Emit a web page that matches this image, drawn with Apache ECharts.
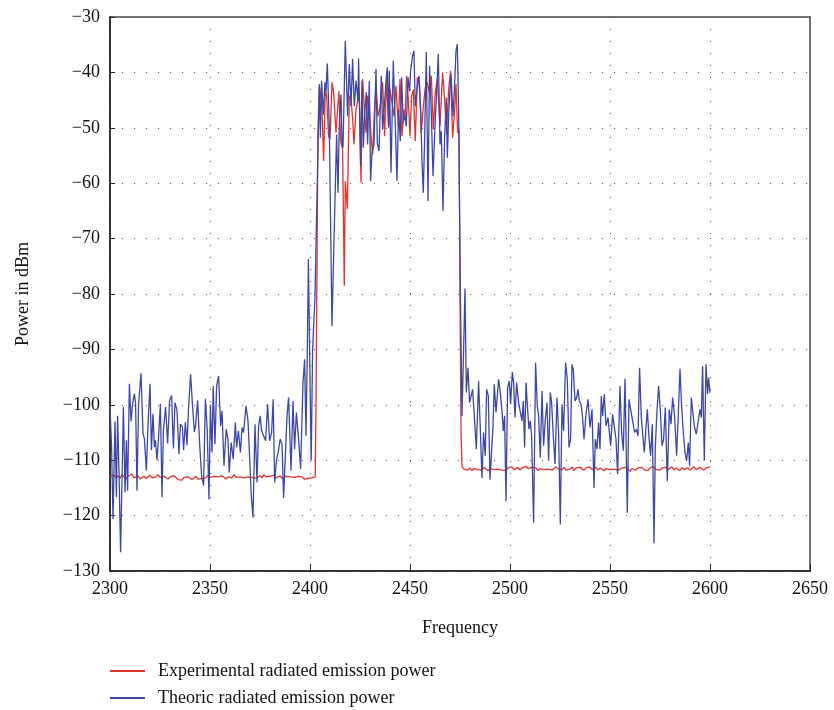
<!DOCTYPE html>
<html lang="en">
<head>
    <meta charset="UTF-8">
    <title>Radiated emission power</title>
    <script src="https://cdn.jsdelivr.net/npm/echarts@6/dist/echarts.min.js"></script>
    <style>
        html, body { margin: 0; padding: 0; background: #fff; }
        #chart { width: 834px; height: 710px; }
    </style>
</head>
<body>
    <div id="chart"></div>
    <script>
        // axis ticks
        const xTicks = [2300, 2350, 2400, 2450, 2500, 2550, 2600, 2650];
        const yTicks = [-130, -120, -110, -100, -90, -80, -70, -60, -50, -40, -30];

        // experimental: flat part left of the band, one value per MHz from 2300
        const expLeftStart = 2300;
        const expLeft = [
            -112.9, -113.1, -112.7, -113.2, -112.8, -113.3, -112.6, -113.0, -113.4, -112.9,
            -113.1, -112.5, -113.2, -113.0, -112.8, -113.4, -113.1, -112.9, -113.3, -113.0,
            -112.7, -113.2, -113.5, -113.0, -112.6, -113.1, -113.3, -112.9, -113.2, -113.4,
            -113.0, -113.3, -112.8, -113.1, -113.5, -113.2, -113.6, -113.1, -113.4, -113.0,
            -113.3, -113.5, -113.2, -112.9, -113.4, -113.1, -113.3, -113.0, -113.2, -112.7,
            -113.1, -113.4, -112.9, -113.2, -113.0, -113.3, -112.8, -113.1, -113.4, -113.0,
            -112.9, -113.2, -112.6, -113.1, -113.3, -113.0, -112.8, -113.2, -113.4, -113.0,
            -112.7, -113.1, -112.9, -113.3, -113.0, -112.8, -113.2, -112.6, -113.0, -113.3,
            -112.9, -113.1, -112.7, -113.2, -113.0, -112.8, -113.3, -113.1, -112.9, -113.2,
            -113.0, -112.7, -113.1, -113.3, -112.9, -113.2, -113.0, -113.4, -113.1, -113.3,
            -113.0, -113.2, -113.1
        ];

        // experimental: the band, [frequency, dBm]
        const expBand = [
            [2402.6, -113], [2403, -100], [2403.6, -70], [2404, -50], [2404.65, -42.4],
            [2405.3, -44], [2406, -46.7], [2406.8, -56], [2407.65, -43], [2408.3, -44.2],
            [2409.3, -51.5], [2410, -52.1], [2411, -41.8], [2411.8, -43.6], [2413, -50.9],
            [2413.8, -46.7], [2414.5, -43.4], [2415.3, -52.4], [2416.3, -53.9], [2417.15, -78.5],
            [2417.65, -59.6], [2418.65, -64.7], [2419.65, -44.2], [2420.5, -44.9], [2421.3, -48.2],
            [2422, -53], [2423, -46.7], [2423.8, -45.2], [2424.65, -43.6], [2425.5, -59.9],
            [2426.3, -41.2], [2427.3, -47.3], [2428, -50.9], [2428.8, -44.2], [2429.65, -46.4],
            [2430.65, -52.1], [2431.3, -54.8], [2432.3, -46.4], [2433, -42.4], [2434, -47.9],
            [2435, -46.4], [2435.65, -46.4], [2436.3, -41.8], [2437.3, -51.5], [2438.3, -41.2],
            [2439.3, -50], [2440, -43], [2441, -42.7], [2442, -47.9], [2443, -42.4],
            [2444.15, -49.7], [2445, -41.2], [2446, -51.5], [2447, -46.7], [2447.5, -48.5],
            [2448.3, -40.6], [2449.15, -44.9], [2450, -51.5], [2450.8, -44.3], [2451.65, -43.1],
            [2452.65, -52.4], [2453.65, -40.9], [2454.65, -41.8], [2455.65, -50.9], [2456.65, -46.1],
            [2457.65, -42.7], [2458.65, -41.8], [2459.65, -43.6], [2460.65, -40.6], [2461.65, -50.3],
            [2462.65, -43.6], [2463.65, -41.2], [2465, -49.7], [2466.3, -40], [2467.3, -44.9],
            [2468.3, -50.9], [2469.3, -43.1], [2470.3, -39.7], [2471.3, -51.8], [2472.3, -47],
            [2473, -42.1], [2473.8, -50.9], [2474.5, -50.3], [2475, -80], [2475.5, -105]
        ];

        // experimental: flat part right of the band, one value per MHz from 2476
        const expRightStart = 2476;
        const expRight = [
            -111.2, -111.6, -111.3, -111.8, -111.4, -111.9, -111.5, -111.2, -111.7, -111.4,
            -111.8, -111.3, -111.6, -111.9, -111.5, -111.2, -111.7, -111.4, -111.6, -111.3,
            -111.8, -111.5, -111.9, -111.4, -111.6, -111.2, -111.7, -111.5, -111.3, -111.8,
            -111.4, -111.6, -111.1, -111.5, -111.8, -111.3, -111.6, -111.4, -111.9, -111.5,
            -111.2, -111.7, -111.4, -111.6, -111.3, -111.8, -111.5, -111.2, -111.6, -111.4,
            -111.7, -111.3, -111.8, -111.5, -111.6, -111.2, -111.9, -111.4, -111.7, -111.3,
            -111.5, -111.8, -111.4, -111.6, -111.2, -111.7, -111.5, -111.3, -111.8, -111.4,
            -111.6, -111.9, -111.5, -111.2, -111.7, -111.4, -111.6, -111.3, -111.8, -111.5,
            -111.4, -111.7, -111.3, -111.6, -112.0, -111.5, -111.2, -111.8, -111.4, -111.6,
            -111.3, -111.7, -111.5, -111.9, -111.4, -111.6, -111.2, -111.7, -111.5, -111.8,
            -111.4, -111.6, -111.3, -111.7, -111.5, -111.2, -111.8, -111.4, -111.6, -111.9,
            -111.3, -111.7, -111.5, -111.4, -111.8, -111.6, -111.2, -111.7, -111.5, -111.3,
            -111.6, -111.8, -111.4, -111.7, -111.2
        ];

        // theoretic, [frequency, dBm]
        const theoric = [
            [2300, -100.4], [2300.8, -107.7], [2301.5, -120.6], [2302.5, -103], [2303.2, -116.7],
            [2303.8, -102], [2304.5, -112], [2305.3, -126.6], [2306.7, -100.4], [2307.5, -115.8],
            [2308.2, -106.4], [2308.8, -115.5], [2309.7, -96.2], [2310.5, -103], [2311.3, -99.8],
            [2312.2, -98], [2312.8, -99.8], [2313.5, -115.5], [2314.3, -99.8], [2315.5, -94.3],
            [2316.5, -105.2], [2317.2, -106.1], [2318.2, -111.9], [2319, -103.7], [2320, -96.2],
            [2320.7, -108.2], [2321.5, -101.6], [2322.2, -107.6], [2322.7, -106.4], [2323.5, -110],
            [2324.3, -105.8], [2325.2, -99.8], [2326, -116.7], [2326.7, -104.6], [2327.8, -100.4],
            [2328.8, -107], [2329.8, -99.2], [2330.8, -98.3], [2331.7, -107.9], [2332.5, -99.6],
            [2333.5, -101], [2334.5, -108.9], [2335.2, -103.5], [2336.2, -104], [2336.8, -108.2],
            [2337.7, -103.1], [2338.5, -107.3], [2339.3, -100.4], [2340.3, -94.5], [2341.3, -100.4],
            [2342.2, -104.9], [2342.8, -103.7], [2343.8, -99.2], [2344.8, -107], [2345.8, -112.8],
            [2346.8, -114.6], [2347.7, -98.9], [2348.6, -104.4], [2349.5, -117.1], [2350.2, -100],
            [2351, -108.6], [2351.6, -96.6], [2352.5, -107.1], [2353.3, -96.6], [2354.3, -94.8],
            [2355.3, -103.8], [2356, -101.1], [2357, -111], [2358.1, -104.4], [2359, -106.2],
            [2359.6, -112.2], [2360.6, -106.8], [2361.6, -109.8], [2362.7, -103.2], [2363.3, -107.7],
            [2364.2, -104.7], [2365.2, -108.6], [2366, -104.1], [2366.8, -105], [2368, -100.2],
            [2369, -102.9], [2370, -111], [2370.6, -116.2], [2371.5, -120.4], [2372.5, -103.5],
            [2373.5, -114], [2374.3, -103.8], [2375.1, -102], [2375.8, -104.7], [2376.8, -104.4],
            [2377.8, -106.5], [2378.8, -99.9], [2379.8, -106.5], [2380.8, -105], [2381.6, -99],
            [2382.3, -114], [2383.3, -109.8], [2384.1, -108.6], [2385.1, -106.2], [2386, -107.1],
            [2386.8, -116.8], [2387.6, -109.8], [2388.5, -102], [2389.3, -98.7], [2390.5, -111.9],
            [2391.5, -99.3], [2392.3, -108], [2393.2, -101.4], [2394.3, -106.2], [2395.3, -111.6],
            [2396.5, -96], [2397.3, -91.8], [2398, -105.6], [2398.6, -91.8], [2399.2, -73.7],
            [2400, -95.4], [2400.6, -110.1], [2401.3, -90], [2402.5, -80.4], [2403.5, -62],
            [2404.7, -42.1], [2405.2, -51.8], [2405.8, -41.5], [2406.65, -47.6], [2407.5, -41.8],
            [2408, -43.4], [2408.65, -38.4], [2409.65, -49.7], [2411, -85.8], [2412.3, -65.9],
            [2413.3, -51.2], [2414, -61.7], [2414.65, -49.1], [2415.5, -44], [2416, -52.7],
            [2416.5, -53.6], [2417.65, -34.3], [2418.8, -47.9], [2419.65, -38.5], [2420.5, -46.1],
            [2421.3, -37.6], [2422.15, -46.1], [2423, -41.5], [2424, -45.2], [2424.3, -37.5],
            [2425.3, -56.9], [2426, -41.5], [2426.65, -53.6], [2427.3, -47.9], [2428.15, -43.6],
            [2428.8, -53], [2429.65, -41.5], [2430.3, -59.6], [2431, -54.5], [2432, -53],
            [2433, -39.4], [2433.65, -52.7], [2434.5, -54.2], [2435.65, -40.6], [2436.3, -50.3],
            [2437.15, -46.1], [2438, -41.8], [2438.65, -39.1], [2439.3, -49.7], [2439.65, -39.7],
            [2440.5, -58.1], [2441.65, -37.9], [2442.5, -47.9], [2443.5, -59.6], [2444.3, -46.7],
            [2445.15, -52.4], [2445.8, -40.9], [2446.65, -49.1], [2447.3, -47.6], [2448.15, -49.7],
            [2449, -40.9], [2449.8, -43.4], [2450.3, -39.7], [2451.3, -37], [2451.97, -36.1],
            [2452.65, -46.1], [2453.65, -42.7], [2454.5, -40.6], [2455.3, -46.4], [2456, -56],
            [2456.65, -61.7], [2457.3, -52.1], [2458.15, -36.3], [2459, -63.2], [2459.8, -38.8],
            [2460.65, -47.3], [2461.5, -58.7], [2462.5, -49.7], [2463.3, -43.6], [2464.15, -36.7],
            [2465, -53], [2465.65, -50.6], [2466.5, -65], [2467.3, -51.8], [2468.15, -44.6],
            [2468.65, -55.4], [2469.5, -46.1], [2470.5, -40.3], [2471.5, -47.9], [2472.15, -43.4],
            [2473, -36.1], [2473.65, -34.9], [2474.3, -46.1], [2475.2, -80], [2476, -102],
            [2476.8, -90], [2477.5, -79], [2478.15, -97.8], [2479, -93.3], [2479.8, -99.6],
            [2480.5, -99.6], [2481.3, -97.2], [2482.15, -102], [2483.15, -108], [2484.3, -95.7],
            [2485.15, -104.4], [2486, -113.2], [2486.8, -105], [2487.65, -109.2], [2488.3, -97.2],
            [2489.15, -98.4], [2490, -113.5], [2490.8, -113.2], [2491.5, -103.8], [2492.15, -96.3],
            [2493, -101.4], [2493.65, -101.1], [2494.3, -95.4], [2495.15, -97.8], [2496, -101.1],
            [2496.65, -104.7], [2497.3, -102], [2498, -117.4], [2498.8, -96.9], [2499.65, -95.7],
            [2500.3, -99.9], [2501.15, -94.1], [2501.8, -96], [2502.5, -102.3], [2503.3, -96],
            [2504.3, -99.6], [2505, -99.9], [2506, -102.9], [2506.65, -99.3], [2507.3, -107.7],
            [2508, -96], [2508.8, -100.8], [2509.5, -104.4], [2510.15, -102.9], [2510.8, -105.6],
            [2511.8, -121.3], [2512.8, -92.4], [2513.65, -100.2], [2514.3, -102], [2515.15, -109.5],
            [2516, -97.5], [2516.8, -107.4], [2517.65, -102.6], [2518.5, -99.6], [2519.3, -110.1],
            [2520.15, -97.8], [2520.8, -99.6], [2521.65, -105.6], [2522.5, -110.7], [2523.5, -98.7],
            [2524.3, -105], [2525.15, -121.6], [2526, -99.9], [2526.8, -104.7], [2527.8, -92.4],
            [2528.65, -95.4], [2529.5, -107.7], [2530.3, -106.2], [2531, -92.7], [2531.65, -93.6],
            [2532.5, -99.3], [2533.3, -98.7], [2534, -97.2], [2534.65, -99.3], [2535.5, -99.9],
            [2536.3, -102.3], [2537, -106.2], [2538, -101.7], [2539, -99], [2540, -104.1],
            [2541, -100.8], [2542, -115], [2542.65, -106.2], [2543.5, -108], [2544.3, -103.2],
            [2545, -108], [2545.65, -98.4], [2546.3, -102], [2547.15, -98.1], [2548, -103.8],
            [2549, -102.3], [2549.65, -102], [2550.3, -107.4], [2551.3, -101.7], [2552.3, -104.4],
            [2553, -106.2], [2553.8, -112.5], [2555, -96.6], [2555.8, -105], [2556.65, -108.3],
            [2557.5, -95.3], [2558.65, -119.5], [2559.5, -99], [2560.5, -99.3], [2561.3, -102.9],
            [2562.3, -105], [2563.15, -104.4], [2564, -105.6], [2564.8, -93.3], [2565.65, -102.3],
            [2566.5, -102.3], [2567.15, -108.6], [2568, -104.1], [2568.65, -100.8], [2569.5, -105.9],
            [2570.3, -109.2], [2571.15, -103.5], [2572, -125], [2572.65, -107.7], [2573.5, -101.1],
            [2574.3, -96.6], [2575.15, -100.8], [2576, -107.4], [2576.8, -106.2], [2577.65, -100.5],
            [2578.65, -113.8], [2579.65, -100.8], [2580.5, -103.5], [2581.3, -98.7], [2582.3, -102],
            [2583.3, -109.2], [2584.15, -101.7], [2585, -93.5], [2585.8, -100.2], [2586.65, -105],
            [2587.5, -108.6], [2588.3, -110.1], [2589.15, -106.8], [2589.8, -111], [2590.65, -98.7],
            [2591.5, -101.7], [2592.3, -104.1], [2593.15, -105.3], [2594.15, -105.3], [2595, -100.8],
            [2595.65, -102.3], [2596.3, -93], [2597.15, -110.1], [2598, -92.7], [2598.8, -98.1],
            [2599.3, -95.1], [2600, -97.8]
        ];

        const experimental = [];
        expLeft.forEach((v, i) => experimental.push([expLeftStart + i, v]));
        expBand.forEach(p => experimental.push(p));
        expRight.forEach((v, i) => experimental.push([expRightStart + i, v]));

        const serif = '"Liberation Serif", "DejaVu Serif", serif';
        const minus = v => String(v).replace('-', '\u2212');
        const expName = 'Experimental radiated emission power';
        const theoName = 'Theoric radiated emission power';

        // one legend per line so each sits on its own row
        const legendBase = {
            left: 110,
            padding: 0,
            itemWidth: 35, itemHeight: 2,
            icon: 'rect',
            textStyle: { fontFamily: serif, fontSize: 18, color: '#111', padding: [0, 0, 0, 8] }
        };

        const chart = echarts.init(document.getElementById('chart'));
        chart.setOption({
            animation: false,
            backgroundColor: '#fff',
            textStyle: { fontFamily: serif },
            grid: {
                left: 110, top: 17, width: 700, height: 554,
                show: true, borderColor: '#444', borderWidth: 1.5
            },
            legend: [
                Object.assign({}, legendBase, { top: 662, data: [expName] }),
                Object.assign({}, legendBase, { top: 689, data: [theoName] })
            ],
            xAxis: {
                type: 'value',
                min: xTicks[0], max: xTicks[xTicks.length - 1], interval: 50,
                name: 'Frequency', nameLocation: 'middle', nameGap: 48,
                nameTextStyle: { fontFamily: serif, fontSize: 18, color: '#111' },
                axisLine: { show: true, lineStyle: { color: '#222', width: 1.5 } },
                axisTick: { show: true, inside: true, length: 7, lineStyle: { color: '#222' } },
                axisLabel: {
                    fontFamily: serif, fontSize: 18, color: '#111', margin: 9,
                    showMinLabel: true, showMaxLabel: true,
                    formatter: v => String(v)
                },
                splitLine: { show: true, lineStyle: { color: '#555', width: 1, type: [1, 11] } }
            },
            yAxis: {
                type: 'value',
                min: yTicks[0], max: yTicks[yTicks.length - 1], interval: 10,
                name: 'Power in dBm', nameLocation: 'middle', nameGap: 78, nameRotate: 90,
                nameTextStyle: { fontFamily: serif, fontSize: 18, color: '#111' },
                axisLine: { show: true, lineStyle: { color: '#222', width: 1.5 } },
                axisTick: { show: true, inside: true, length: 5, lineStyle: { color: '#222' } },
                axisLabel: { fontFamily: serif, fontSize: 18, color: '#111', margin: 10, formatter: minus },
                splitLine: { show: true, lineStyle: { color: '#555', width: 1, type: [1, 11] } }
            },
            series: [
                {
                    name: expName,
                    type: 'line',
                    data: experimental,
                    showSymbol: false,
                    z: 2,
                    itemStyle: { color: '#e4312b' },
                    lineStyle: { color: '#e4312b', width: 1.3 }
                },
                {
                    name: theoName,
                    type: 'line',
                    data: theoric,
                    showSymbol: false,
                    z: 3,
                    itemStyle: { color: '#3d48a6' },
                    lineStyle: { color: '#3d48a6', width: 1.3 }
                }
            ]
        });
    </script>
</body>
</html>
